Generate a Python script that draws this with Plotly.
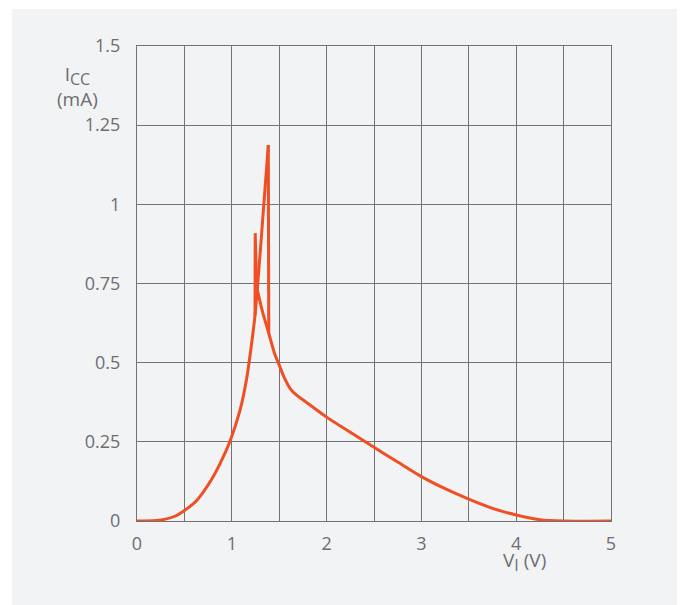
import plotly.graph_objects as go

# Rising branch (forward sweep) up to the peak
v_rise = [0.0, 0.2, 0.3, 0.4, 0.49, 0.63, 0.77, 0.876, 0.981, 1.087, 1.157, 1.2, 1.245, 1.30, 1.385]
i_rise = [0.0, 0.002, 0.006, 0.015, 0.031, 0.065, 0.123, 0.181, 0.252, 0.35, 0.45, 0.54, 0.65,
          0.85, 1.187]

# Vertical drop after the peak
v_drop = [1.385, 1.39]
i_drop = [1.187, 0.593]

# Spike on the reverse sweep
v_spike = [1.245, 1.247, 1.262]
i_spike = [0.65, 0.909, 0.74]

# Descending branch
v_fall = [1.262, 1.32, 1.39, 1.45, 1.49, 1.55, 1.614, 1.68, 1.754, 2.0, 2.25, 2.5,
          2.75, 3.0, 3.25, 3.5, 3.75, 4.0, 4.25, 4.5, 5.0]
i_fall = [0.74, 0.665, 0.593, 0.53, 0.50, 0.455, 0.419, 0.398, 0.382, 0.328, 0.28, 0.233,
          0.186, 0.140, 0.102, 0.069, 0.04, 0.019, 0.004, 0.0, 0.0]

x_ticks = [0, 1, 2, 3, 4, 5]
y_ticks = [0, 0.25, 0.5, 0.75, 1, 1.25, 1.5]
y_labels = ["0", "0.25", "0.5", "0.75", "1", "1.25", "1.5"]

LINE = "#f04e23"
GRID = "#737373"
TXT = "#6d6e71"
PANEL = "#f2f3f5"
FONT = "Open Sans"
FS = 18

fig = go.Figure()
for xs, ys, shape in [(v_rise, i_rise, "spline"), (v_drop, i_drop, "linear"),
                      (v_spike, i_spike, "linear"), (v_fall, i_fall, "spline")]:
    fig.add_trace(go.Scatter(x=xs, y=ys, mode="lines",
                             line=dict(color=LINE, width=3, shape=shape, smoothing=0.8),
                             showlegend=False, hoverinfo="skip"))

OFF = 8  # page body margin
L, T = 137 - OFF, 46 - OFF
W, H = 685 - OFF, 615
pw, ph = 474, 475
R = W - L - pw
B = H - T - ph

def px(x):
    return (x - OFF - L) / pw

def py(y):
    return (T + ph - (y - OFF)) / ph

# white margins around the gray panel
for x0, x1, y0, y1 in [(0, 12, 0, 700), (680, 700, 0, 700), (0, 700, 0, 9)]:
    fig.add_shape(type="rect", xref="paper", yref="paper",
                  x0=px(x0), x1=px(x1), y0=py(y1), y1=py(y0),
                  fillcolor="white", line=dict(width=0), layer="below")

fig.update_layout(
    width=W, height=H,
    margin=dict(l=L, r=R, t=T, b=B),
    paper_bgcolor=PANEL,
    plot_bgcolor="rgba(0,0,0,0)",
    font=dict(family=FONT, size=FS, color=TXT),
    xaxis=dict(range=[0, 5], tickvals=x_ticks, ticktext=[str(t) for t in x_ticks],
               showgrid=True, gridcolor=GRID, gridwidth=1,
               minor=dict(dtick=0.5, tick0=0, showgrid=True, gridcolor=GRID, gridwidth=1),
               showline=True, linecolor=GRID, linewidth=1, mirror=True,
               zeroline=False, ticks="", ticklabelstandoff=6, fixedrange=True),
    yaxis=dict(range=[0, 1.5], tickvals=y_ticks, ticktext=y_labels,
               showgrid=True, gridcolor=GRID, gridwidth=1,
               showline=True, linecolor=GRID, linewidth=1, mirror=True,
               zeroline=False, ticks="", ticklabelstandoff=12, fixedrange=True),
)

fig.add_annotation(xref="paper", yref="paper", x=px(77), y=py(59), xanchor="center", yanchor="top",
                   text="I<sub><span style='font-size:16px'>CC</span></sub><br>(mA)",
                   showarrow=False, align="center",
                   font=dict(family=FONT, size=19, color=TXT))
fig.add_annotation(xref="paper", yref="paper", x=px(524), y=py(561), xanchor="center", yanchor="middle",
                   text="V<sub><span style='font-size:16px'>I</span></sub> (V)", showarrow=False,
                   font=dict(family=FONT, size=19, color=TXT))

fig.write_html("out.html")
